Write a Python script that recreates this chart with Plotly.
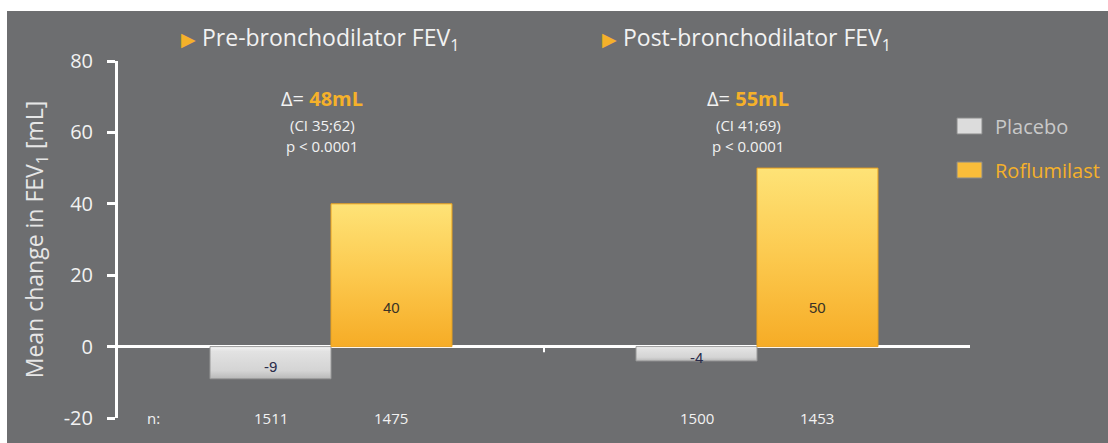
import plotly.graph_objects as go

# ---- data ----
groups = ["Pre-bronchodilator FEV<sub>1</sub>", "Post-bronchodilator FEV<sub>1</sub>"]
series_names = ["Placebo", "Roflumilast"]
placebo_change = [-9, -4]
roflumilast_change = [40, 50]
placebo_n = [1511, 1500]
roflumilast_n = [1475, 1453]
delta_ml = [48, 55]
delta_ci = ["35;62", "41;69"]
p_values = ["p < 0.0001", "p < 0.0001"]
y_ticks = [-20, 0, 20, 40, 60, 80]
y_tick_text = ["-20", "0", "20", "40", "60", "80"]

# ---- layout constants ----
W, H = 1108, 443
L, R, T, B = 118, 138, 61, 25
PW, PH = W - L - R, H - T - B
BG = "#6d6e70"
ORANGE = "#f5b12a"
TEXT = "#f2f2f2"
group_x = [0.5, 1.5]
bar_w = 0.284
FONT = "Open Sans"


def px_x(px):
    return (px - L) / PW


def px_y(py):
    return (H - B - py) / PH


def px_data_y(py):
    return -20 + px_y(py) * 100


fig = go.Figure()


def add_bar(xc, value, scale, edge):
    x0, x1 = xc - bar_w / 2, xc + bar_w / 2
    fig.add_trace(go.Scatter(
        x=[x0, x1, x1, x0, x0], y=[0, 0, value, value, 0],
        mode="lines", fill="toself",
        fillgradient=dict(type="vertical", colorscale=scale),
        line=dict(color=edge, width=1),
        showlegend=False, hoverinfo="skip",
    ))


placebo_scale = [[0, "#b9b9b9"], [0.25, "#d4d4d4"], [0.85, "#e2e2e2"], [1, "#f4f4f4"]]
rof_scale = [[0, "#f6ac26"], [0.5, "#fcc94e"], [1, "#fee377"]]

for i, xc in enumerate(group_x):
    px_c = xc - bar_w / 2
    rx_c = xc + bar_w / 2
    add_bar(px_c, placebo_change[i], placebo_scale, "#9a9a9a")
    add_bar(rx_c, roflumilast_change[i], rof_scale, "#e9a21f")

    # value labels
    fig.add_annotation(x=px_c, y=placebo_change[i] / 2 - 1, text=str(placebo_change[i]),
                       showarrow=False, font=dict(family="Liberation Sans", size=15, color="#2a2c4a"))
    fig.add_annotation(x=rx_c, y=11, text=str(roflumilast_change[i]),
                       showarrow=False, font=dict(family="Liberation Sans", size=15, color="#3a3326"))

    # sample sizes
    fig.add_annotation(x=px_c, y=-20, text=str(placebo_n[i]), showarrow=False,
                       font=dict(family=FONT, size=15, color=TEXT))
    fig.add_annotation(x=rx_c, y=-20, text=str(roflumilast_n[i]), showarrow=False,
                       font=dict(family=FONT, size=15, color=TEXT))

    # treatment difference block
    fig.add_annotation(x=xc - 0.02, y=px_data_y(98),
                       text=f"Δ= <b><span style='color:{ORANGE}'>{delta_ml[i]}mL</span></b>",
                       showarrow=False, font=dict(family=FONT, size=20, color=TEXT))
    fig.add_annotation(x=xc - 0.02, y=px_data_y(125), text=f"(CI {delta_ci[i]})", showarrow=False,
                       font=dict(family=FONT, size=15, color=TEXT))
    fig.add_annotation(x=xc - 0.02, y=px_data_y(146), text=p_values[i], showarrow=False,
                       font=dict(family=FONT, size=15, color=TEXT))

# "n:" row label
fig.add_annotation(x=px_x(145), y=-20, text="n:", showarrow=False,
                   xref="paper", font=dict(family=FONT, size=15, color=TEXT))

# panel headings with orange bullets
for title, bx in zip(groups, [179, 600]):
    fig.add_annotation(x=px_x(bx), y=px_y(38), xref="paper", yref="paper",
                       xanchor="left", yanchor="middle", showarrow=False,
                       text=f"<span style='color:{ORANGE};font-size:19px'>▶</span> {title}",
                       font=dict(family=FONT, size=23, color=TEXT))

# legend
legend_items = [("Placebo", "#dcdcdc", "#c9c9c9", 126), ("Roflumilast", "#f9bd3a", ORANGE, 170)]
for name, sw, tc, cy in legend_items:
    fig.add_shape(type="rect", xref="paper", yref="paper",
                  x0=px_x(957), x1=px_x(982), y0=px_y(cy - 8), y1=px_y(cy + 8),
                  fillcolor=sw, line=dict(color="#8a8a8a", width=1))
    fig.add_annotation(x=px_x(993), y=px_y(cy), xref="paper", yref="paper",
                       xanchor="left", yanchor="middle", showarrow=False, text=name,
                       font=dict(family=FONT, size=20, color=tc))

# small centre tick on the zero line
fig.add_shape(type="line", x0=1, x1=1, y0=0, y1=-1.6,
              line=dict(color="white", width=2))

# white frame strips on top and left
fig.add_shape(type="rect", xref="paper", yref="paper", layer="below",
              x0=px_x(0), x1=px_x(W), y0=px_y(11), y1=px_y(0),
              fillcolor="white", line=dict(width=0))
fig.add_shape(type="rect", xref="paper", yref="paper", layer="below",
              x0=px_x(0), x1=px_x(7), y0=px_y(H), y1=px_y(0),
              fillcolor="white", line=dict(width=0))

fig.update_layout(
    width=W, height=H,
    margin=dict(l=L, r=R, t=T, b=B),
    paper_bgcolor=BG, plot_bgcolor=BG,
    showlegend=False,
    xaxis=dict(range=[0, 2], showgrid=False, zeroline=False, showline=False,
               showticklabels=False, ticks="", fixedrange=True),
    yaxis=dict(range=[-20, 80], tickvals=y_ticks, ticktext=y_tick_text, showgrid=False,
               zeroline=True, zerolinecolor="white", zerolinewidth=3,
               showline=True, linecolor="white", linewidth=3,
               ticks="outside", ticklen=8, tickwidth=3, tickcolor="white",
               ticklabelstandoff=10,
               tickfont=dict(family=FONT, size=20, color=TEXT),
               title=dict(text="Mean change in FEV<sub>1</sub> [mL]",
                          font=dict(family=FONT, size=23, color="#e6e6e6"), standoff=14),
               fixedrange=True),
)

fig.write_html("out.html")
